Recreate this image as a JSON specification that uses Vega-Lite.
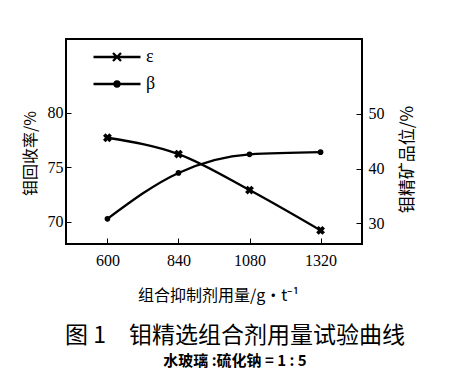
{
  "$schema": "https://vega.github.io/schema/vega-lite/v6.json",
  "autosize": {"type": "none"},
  "width": 296,
  "height": 205,
  "padding": {"left": 66, "top": 39, "right": 113, "bottom": 135},
  "background": "white",
  "config": {
    "view": {"stroke": "black", "strokeWidth": 2},
    "axis": {"grid": false, "domain": false, "labelFont": "Liberation Serif", "labelFontSize": 16, "labelColor": "black", "tickColor": "black", "tickWidth": 1, "titleFont": "Noto Sans CJK SC", "titleFontWeight": "normal", "titleColor": "black"}
  },
  "title": {
    "text": "图 1　钼精选组合剂用量试验曲线",
    "subtitle": "水玻璃 :硫化钠 = 1 : 5",
    "orient": "bottom",
    "anchor": "middle",
    "frame": "group",
    "dx": 21,
    "offset": 22,
    "font": "Noto Sans CJK SC",
    "fontSize": 23,
    "fontWeight": "normal",
    "color": "black",
    "subtitleFont": "Noto Sans CJK SC",
    "subtitleFontSize": 15,
    "subtitleFontWeight": "bold",
    "subtitleColor": "black",
    "subtitlePadding": 6
  },
  "data": {
    "values": [
      {"dose": 600, "series": "ε", "v": 77.7},
      {"dose": 840, "series": "ε", "v": 76.2},
      {"dose": 1080, "series": "ε", "v": 72.9},
      {"dose": 1320, "series": "ε", "v": 69.2},
      {"dose": 600, "series": "β", "v": 30.8},
      {"dose": 840, "series": "β", "v": 39.2},
      {"dose": 1080, "series": "β", "v": 42.6},
      {"dose": 1320, "series": "β", "v": 43.0}
    ]
  },
  "encoding": {
    "x": {
      "field": "dose", "type": "quantitative",
      "scale": {"domain": [460, 1460], "nice": false, "zero": false},
      "axis": {"values": [600, 840, 1080, 1320], "format": "d", "tickSize": -6, "labelPadding": 14, "title": "组合抑制剂用量/g·t⁻¹", "titleFontSize": 16, "titleX": 152, "titleY": 51, "titleBaseline": "middle", "titleAnchor": "middle"}
    }
  },
  "layer": [
    {
      "transform": [{"filter": "datum.series === 'ε'"}],
      "encoding": {
        "y": {
          "field": "v", "type": "quantitative",
          "scale": {"domain": [67.95, 86.76], "nice": false, "zero": false},
          "axis": {"orient": "left", "values": [70, 75, 80], "tickSize": -5, "labelPadding": 8, "title": "钼回收率/%", "titleFontSize": 16, "titleX": -36, "titleY": 114, "titleAngle": -90, "titleBaseline": "middle", "titleAnchor": "middle"}
        }
      },
      "layer": [
        {
          "mark": {"type": "line", "interpolate": "monotone", "strokeWidth": 2.3},
          "encoding": {
            "color": {
              "field": "series", "type": "nominal",
              "scale": {"domain": ["ε", "β"], "range": ["black", "black"]},
              "legend": {
                "orient": "none", "legendX": 42, "legendY": 9, "padding": 0,
                "title": null, "direction": "vertical",
                "symbolSize": 100, "labelOffset": 20, "rowPadding": 9,
                "labelFont": "Liberation Serif", "labelFontSize": 18, "labelColor": "black",
                "encode": {
                  "symbols": {
                    "update": {
                      "shape": {"signal": "datum.value === 'ε' ? 'M-4.7,0H4.7M-0.8,-0.8L0.8,0.8M-0.8,0.8L0.8,-0.8' : 'M-4.7,0H4.7M0.5,0A0.5,0.5 0 1,1 -0.5,0A0.5,0.5 0 1,1 0.5,0Z'"},
                      "fill": {"value": "black"},
                      "stroke": {"value": "black"},
                      "strokeWidth": {"value": 2.3},
                      "opacity": {"value": 1}
                    }
                  }
                }
              }
            }
          }
        },
        {
          "mark": {"type": "point", "shape": "cross", "angle": 45, "filled": true, "size": 80, "color": "black", "opacity": 1}
        }
      ]
    },
    {
      "transform": [{"filter": "datum.series === 'β'"}],
      "encoding": {
        "y": {
          "field": "v", "type": "quantitative",
          "scale": {"domain": [26.2, 63.7], "nice": false, "zero": false},
          "axis": {"orient": "right", "values": [30, 40, 50], "tickSize": -6, "labelPadding": 12, "title": "钼精矿品位/%", "titleFontSize": 17, "titleX": 45, "titleY": 120, "titleAngle": -90, "titleBaseline": "middle", "titleAnchor": "middle"}
        }
      },
      "layer": [
        {
          "mark": {"type": "line", "interpolate": "monotone", "strokeWidth": 2.3},
          "encoding": {
            "color": {"field": "series", "type": "nominal", "scale": {"domain": ["ε", "β"], "range": ["black", "black"]}}
          }
        },
        {
          "mark": {"type": "point", "shape": "circle", "filled": true, "size": 32, "color": "black", "opacity": 1}
        }
      ]
    }
  ],
  "resolve": {"scale": {"y": "independent"}}
}
